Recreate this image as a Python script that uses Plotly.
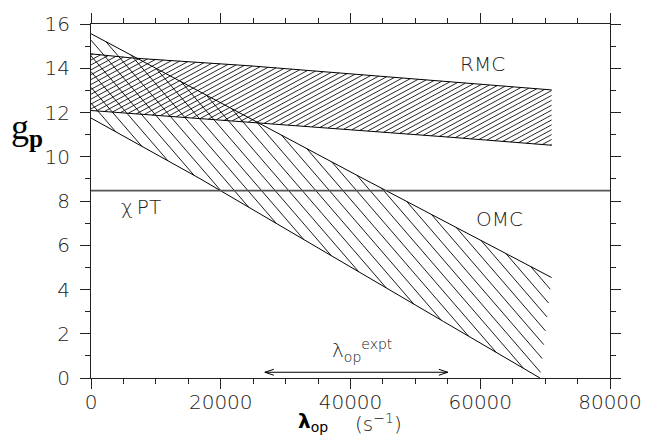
import math
import plotly.graph_objects as go

# ---- data -------------------------------------------------------------
# RMC band (upper / lower edges vs lambda_op)
rmc_x = [0, 6500, 24500, 55500, 71000]
rmc_hi = [14.65, 14.46, 14.11, 13.38, 13.02]
rmc_lo = [12.09, 11.95, 11.57, 10.88, 10.52]

# OMC band
omc_top_x = [0, 20000, 41000, 71000]
omc_top_y = [15.56, 12.45, 9.16, 4.54]
omc_bot_x = [0, 16800, 54300, 69200]
omc_bot_y = [11.75, 9.01, 2.56, 0.0]

# chiral perturbation theory value
chipt_g = 8.47

# experimental lambda_op interval
expt_lam = [26800, 55000]
expt_y = 0.26

x_ticks = [0, 20000, 40000, 60000, 80000]
x_ticktext = ["0", "20000", "40000", "60000", "80000"]
y_ticks = [0, 2, 4, 6, 8, 10, 12, 14, 16]
y_ticktext = ["0", "2", "4", "6", "8", "10", "12", "14", "16"]

# ---- layout geometry --------------------------------------------------
W, H = 668, 440
ML, MR, MT, MB = 91, 58, 14, 62
XR = (0, 80000)
YR = (0, 16)
PW = W - ML - MR
PH = H - MT - MB
SX = PW / (XR[1] - XR[0])   # px per x unit
SY = PH / (YR[1] - YR[0])   # px per y unit


def band_polygon(top_x, top_y, bot_x, bot_y):
    xs = list(top_x) + list(reversed(bot_x))
    ys = list(top_y) + list(reversed(bot_y))
    return xs, ys


def hatch(xs, ys, angle_deg, spacing_px, phase=0.0):
    """Parallel hatch lines clipped to a polygon, computed in pixel space."""
    pu = [x * SX for x in xs]
    pv = [y * SY for y in ys]
    th = math.radians(angle_deg)
    d = (math.cos(th), math.sin(th))
    n = (-math.sin(th), math.cos(th))
    proj = [n[0] * u + n[1] * v for u, v in zip(pu, pv)]
    cmin, cmax = min(proj), max(proj)
    k0 = math.floor((cmin - phase) / spacing_px)
    k1 = math.ceil((cmax - phase) / spacing_px)
    out_x, out_y = [], []
    m = len(pu)
    for k in range(k0, k1 + 1):
        c = phase + k * spacing_px
        pts = []
        for i in range(m):
            j = (i + 1) % m
            a = proj[i] - c
            b = proj[j] - c
            if (a > 0) != (b > 0):
                t = a / (a - b)
                u = pu[i] + t * (pu[j] - pu[i])
                v = pv[i] + t * (pv[j] - pv[i])
                pts.append((d[0] * u + d[1] * v, u, v))
        pts.sort()
        for i in range(0, len(pts) - 1, 2):
            for _, u, v in (pts[i], pts[i + 1]):
                out_x.append(u / SX)
                out_y.append(v / SY)
            out_x.append(None)
            out_y.append(None)
    return out_x, out_y


fig = go.Figure()

# RMC hatch: "/" lines
rx, ry = band_polygon(rmc_x, rmc_hi, rmc_x, rmc_lo)
hx, hy = hatch(rx, ry, 29, 4.4)
fig.add_trace(go.Scatter(x=hx, y=hy, mode="lines",
                         line=dict(color="black", width=0.85),
                         hoverinfo="skip", showlegend=False))

# OMC hatch: "\" lines
ox, oy = band_polygon(omc_top_x, omc_top_y, omc_bot_x, omc_bot_y)
hx, hy = hatch(ox, oy, -50, 10.4, phase=4.9)
fig.add_trace(go.Scatter(x=hx, y=hy, mode="lines",
                         line=dict(color="black", width=0.9),
                         hoverinfo="skip", showlegend=False))

# band edges
edge = dict(color="black", width=1.0)
for ex, ey in [(rmc_x, rmc_hi), (rmc_x, rmc_lo),
               (omc_top_x, omc_top_y), (omc_bot_x, omc_bot_y)]:
    fig.add_trace(go.Scatter(x=ex, y=ey, mode="lines", line=edge,
                             hoverinfo="skip", showlegend=False))

# chiPT level
fig.add_trace(go.Scatter(x=list(XR), y=[chipt_g, chipt_g], mode="lines",
                         line=dict(color="#555555", width=1.6),
                         hoverinfo="skip", showlegend=False))

# experimental interval: shaft + open arrow heads
fig.add_trace(go.Scatter(x=expt_lam, y=[expt_y, expt_y], mode="lines",
                         line=dict(color="black", width=1.0),
                         hoverinfo="skip", showlegend=False))
for xa, sgn in [(expt_lam[0], 1), (expt_lam[1], -1)]:
    fig.add_shape(type="path", xref="x", yref="y",
                  xsizemode="pixel", ysizemode="pixel",
                  xanchor=xa, yanchor=expt_y,
                  path=f"M {9*sgn},3 L 0,0 L {9*sgn},-3",
                  line=dict(color="black", width=1.0))

tick_font = dict(family="DejaVu Sans", size=20, color="#222222", weight=200)
lab_font = dict(family="DejaVu Sans", size=20, color="#222222", weight=200)

fig.add_annotation(x=60400, y=14.2, xref="x", yref="y", text="RMC",
                   showarrow=False, font=lab_font,
                   xanchor="center", yanchor="middle")
fig.add_annotation(x=63000, y=7.2, xref="x", yref="y", text="OMC",
                   showarrow=False, font=lab_font,
                   xanchor="center", yanchor="middle")
fig.add_annotation(x=7700, y=7.72, xref="x", yref="y", text="χ\u2009PT",
                   showarrow=False, font=lab_font,
                   xanchor="center", yanchor="middle")
fig.add_annotation(x=41800, y=1.25, xref="x", yref="y",
                   text="λ<sub>op</sub><sup>expt</sup>",
                   showarrow=False,
                   font=dict(family="DejaVu Sans", size=20, color="#111111",
                             weight=300),
                   xanchor="center", yanchor="middle")

# axis titles
fig.add_annotation(x=(27 - ML) / PW, y=(H - MB - 122) / PH,
                   xref="paper", yref="paper",
                   xanchor="center", yanchor="middle",
                   text="g<sub><b>p</b></sub>", showarrow=False,
                   font=dict(family="Liberation Serif", size=36, color="black"))
fig.add_annotation(x=(313 - ML) / PW, y=(H - MB - 423) / PH,
                   xref="paper", yref="paper",
                   xanchor="center", yanchor="middle",
                   text="<b>λ</b><sub>op</sub>", showarrow=False,
                   font=dict(family="DejaVu Sans", size=20, color="black"))
fig.add_annotation(x=(378 - ML) / PW, y=(H - MB - 424) / PH,
                   xref="paper", yref="paper",
                   xanchor="center", yanchor="middle",
                   text="(s<sup>−1</sup>)", showarrow=False,
                   font=lab_font)

axis_common = dict(
    showgrid=False, zeroline=False,
    showline=True, linecolor="#222222", linewidth=1.2,
    mirror="allticks", ticks="outside", ticklen=10, tickwidth=1.2,
    tickcolor="#222222", tickfont=tick_font,
)
fig.update_xaxes(range=list(XR), tickvals=x_ticks, ticktext=x_ticktext,
                 minor=dict(ticks="outside", ticklen=5, dtick=5000,
                            tickcolor="#222222", tickwidth=1.2),
                 ticklabelstandoff=-4,
                 **axis_common)
fig.update_yaxes(range=list(YR), tickvals=y_ticks, ticktext=y_ticktext,
                 minor=dict(ticks="outside", ticklen=5, dtick=1,
                            tickcolor="#222222", tickwidth=1.2),
                 ticklabelstandoff=6,
                 **axis_common)

fig.update_layout(
    width=W, height=H,
    margin=dict(l=ML, r=MR, t=MT, b=MB),
    paper_bgcolor="white", plot_bgcolor="white",
    showlegend=False,
)

fig.write_html("out.html")
